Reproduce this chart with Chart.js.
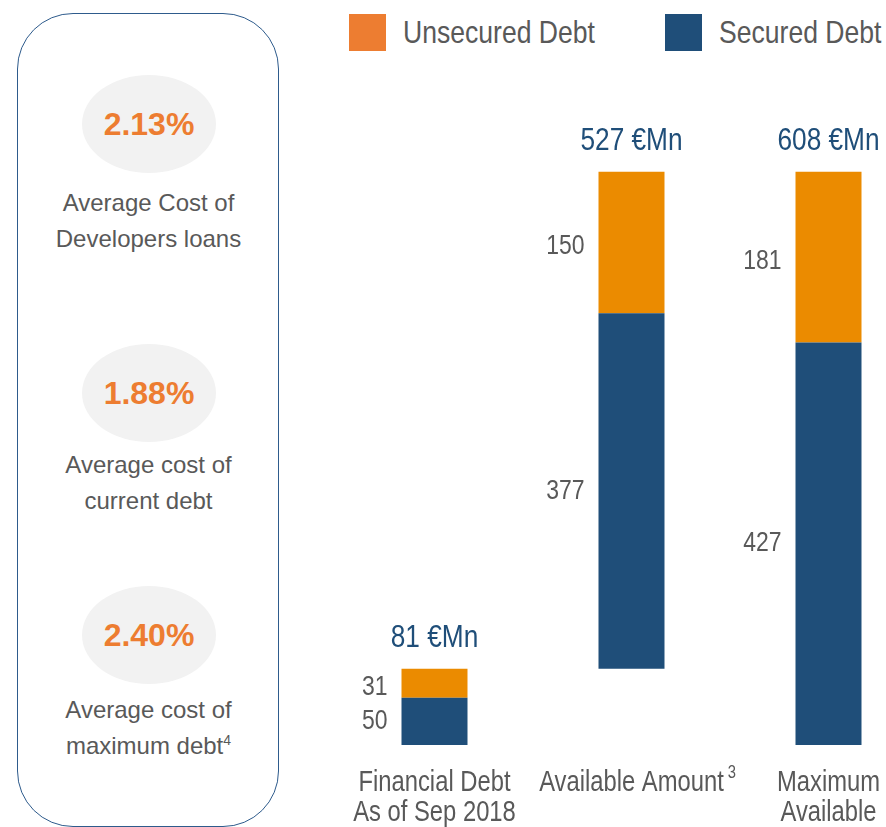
<!DOCTYPE html>
<html>
<head>
<meta charset="utf-8">
<script src="https://cdn.jsdelivr.net/npm/chart.js@4.4.1/dist/chart.umd.min.js"></script>
<style>
  body { margin:0; width:886px; height:827px; overflow:hidden; position:relative; background:#fff;
         font-family:'Liberation Sans', Arial, sans-serif; }
  .panel { position:absolute; left:17px; top:13px; width:260px; height:812px;
           border:1.5px solid #2E5B8C; border-radius:56px; }
  .oval { position:absolute; left:82px; width:134px; height:98px; border-radius:50%; background:#F2F2F2;
          color:#ED7D31; font-weight:bold; font-size:32px; line-height:98px; text-align:center; }
  .note { position:absolute; left:17px; width:263px; text-align:center; color:#595959;
          font-size:24px; line-height:36px; }
  .note sup { font-size:14px; line-height:0; }
  .legend { position:absolute; top:14px; height:37px; display:flex; align-items:center; white-space:nowrap;
            font-size:32px; color:#595959; }
  .legend .box { width:37px; height:37px; margin-right:17px; display:inline-block; }
  .legend .txt { display:inline-block; transform:scaleX(0.83); transform-origin:left center; }
  #wrap { position:absolute; left:336px; top:0; width:591px; height:827px; }
</style>
</head>
<body>
<div class="panel"></div>
<div class="oval" style="top:75px">2.13%</div>
<div class="note" style="top:185px">Average Cost of<br>Developers loans</div>
<div class="oval" style="top:344px">1.88%</div>
<div class="note" style="top:447px">Average cost of<br>current debt</div>
<div class="oval" style="top:586px">2.40%</div>
<div class="note" style="top:692px">Average cost of<br>maximum debt<sup>4</sup></div>

<div class="legend" style="left:349px"><span class="box" style="background:#ED7D31"></span><span class="txt">Unsecured Debt</span></div>
<div class="legend" style="left:665px"><span class="box" style="background:#1F4E79"></span><span class="txt">Secured Debt</span></div>

<div id="wrap"><canvas id="debtChart" width="591" height="827"></canvas></div>

<script>
// chart data
const categories = ['Financial Debt', 'Available Amount', 'Maximum'];
const categorySecondLine = ['As of Sep 2018', '', 'Available'];
const categorySup = ['', '3', ''];
const securedDebt = [50, 377, 427];
const unsecuredDebt = [31, 150, 181];
const barStart = [0, 81, 0];   // available amount sits on top of the current debt

const FONT = "'Liberation Sans', Arial, sans-serif";
const SQUEEZE = 0.82;          // narrow look of the original font
const GREY = '#595959';
const NAVY = '#1F4E79';

const securedRange = securedDebt.map((v, i) => [barStart[i], barStart[i] + v]);
const unsecuredRange = unsecuredDebt.map((v, i) => [barStart[i] + securedDebt[i], barStart[i] + securedDebt[i] + v]);

// text drawn horizontally squeezed
function narrowText(ctx, text, x, y) {
    ctx.save();
    ctx.translate(x, y);
    ctx.scale(SQUEEZE, 1);
    ctx.fillText(text, 0, 0);
    ctx.restore();
}

// draw value labels, totals and category names
const labelPlugin = {
    id: 'debtLabels',
    afterDatasetsDraw(chart) {
        const ctx = chart.ctx;
        const secMeta = chart.getDatasetMeta(0);
        const unsMeta = chart.getDatasetMeta(1);
        const zeroY = chart.scales.y.getPixelForValue(0);
        ctx.save();

        categories.forEach((cat, i) => {
            let sec = secMeta.data[i];
            let uns = unsMeta.data[i];
            let left = sec.x - sec.width / 2;

            ctx.font = '28px ' + FONT;
            ctx.fillStyle = GREY;
            ctx.textAlign = 'right';
            ctx.textBaseline = 'middle';
            narrowText(ctx, securedDebt[i], left - 14, (sec.y + sec.base) / 2);
            narrowText(ctx, unsecuredDebt[i], left - 14, (uns.y + uns.base) / 2 + 4);

            // total above bar
            ctx.font = '32px ' + FONT;
            ctx.fillStyle = NAVY;
            ctx.textAlign = 'center';
            ctx.textBaseline = 'alphabetic';
            narrowText(ctx, (securedDebt[i] + unsecuredDebt[i]) + ' €Mn', sec.x, uns.y - 22);

            // category name under the axis
            ctx.font = '29px ' + FONT;
            ctx.fillStyle = GREY;
            narrowText(ctx, cat, sec.x, zeroY + 46);
            if (categorySecondLine[i]) {
                narrowText(ctx, categorySecondLine[i], sec.x, zeroY + 76);
            }
            if (categorySup[i]) {
                let w = ctx.measureText(cat).width * SQUEEZE;
                ctx.font = '18px ' + FONT;
                ctx.textAlign = 'left';
                narrowText(ctx, categorySup[i], sec.x + w / 2 + 4, zeroY + 33);
            }
        });
        ctx.restore();
    }
};

new Chart(document.getElementById('debtChart'), {
    type: 'bar',
    data: {
        labels: categories,
        datasets: [{
            label: 'Secured Debt',
            data: securedRange,
            backgroundColor: NAVY,
            borderWidth: 0,
            barPercentage: 0.335,
            categoryPercentage: 1
        }, {
            label: 'Unsecured Debt',
            data: unsecuredRange,
            backgroundColor: '#EB8B00',
            borderWidth: 0,
            barPercentage: 0.335,
            categoryPercentage: 1
        }]
    },
    options: {
        responsive: false,
        animation: false,
        layout: { padding: { top: 85, bottom: 82, left: 0, right: 0 } },
        plugins: { legend: { display: false }, tooltip: { enabled: false } },
        scales: {
            x: { stacked: true, display: false },
            y: { display: false, min: 0, max: 700 }
        }
    },
    plugins: [labelPlugin]
});
</script>
</body>
</html>
